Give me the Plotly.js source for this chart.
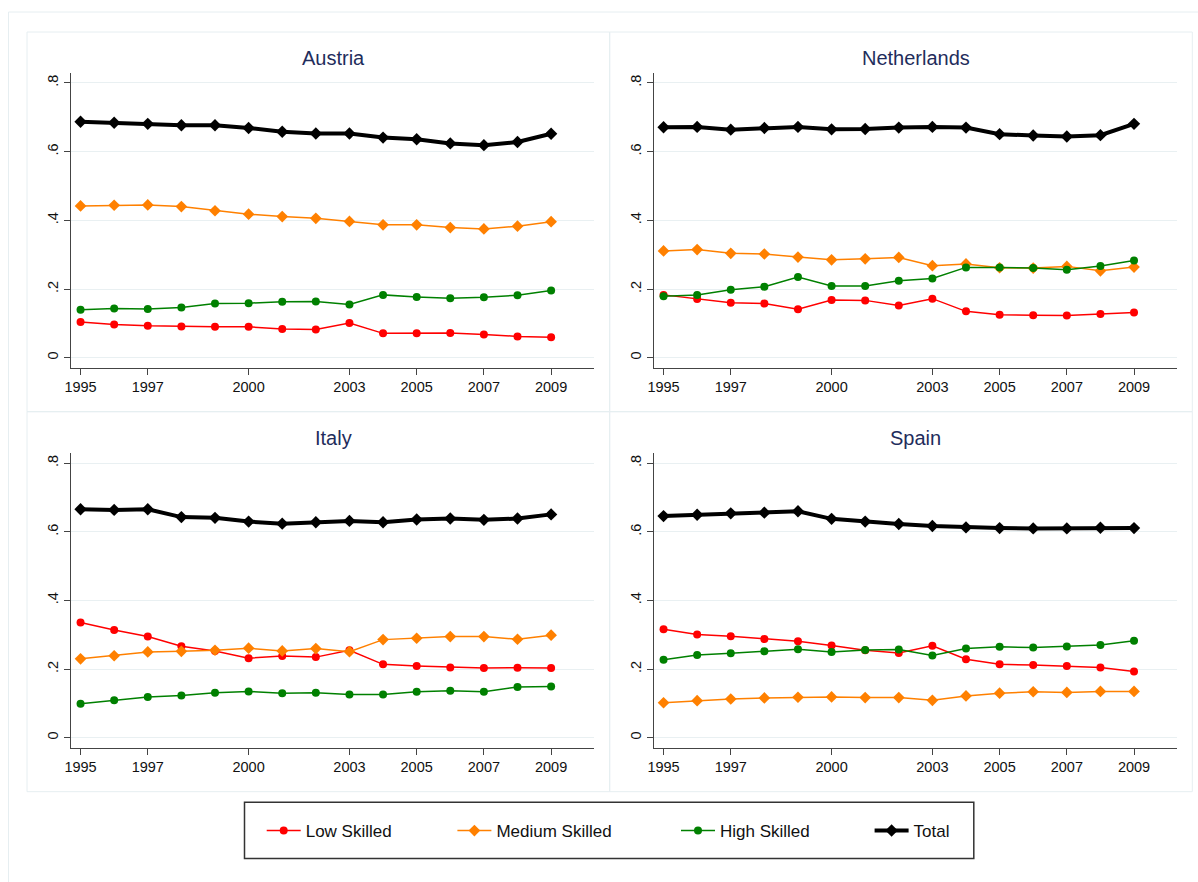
<!DOCTYPE html>
<html>
<head>
<meta charset="utf-8">
<script src="https://cdn.plot.ly/plotly-3.0.1.min.js"></script>
<style>html,body{margin:0;padding:0;background:#fff;}#chart{width:1198px;height:882px;}</style>
</head>
<body>
<div id="chart"></div>
<script>
const years = [1995,1996,1997,1998,1999,2000,2001,2002,2003,2004,2005,2006,2007,2008,2009];
const tickYears = [1995,1997,2000,2003,2005,2007,2009];
const yTicks = [0,0.2,0.4,0.6,0.8];
const yTickText = ["0",".2",".4",".6",".8"];
const countries = ["Austria","Netherlands","Italy","Spain"];
const seriesNames = ["Low Skilled","Medium Skilled","High Skilled","Total"];

const austriaLow   = [0.104,0.097,0.093,0.091,0.090,0.090,0.084,0.082,0.101,0.071,0.071,0.072,0.068,0.062,0.060];
const austriaMed   = [0.442,0.444,0.445,0.440,0.428,0.418,0.411,0.406,0.397,0.387,0.387,0.379,0.375,0.383,0.396];
const austriaHigh  = [0.140,0.143,0.142,0.146,0.158,0.159,0.163,0.164,0.155,0.183,0.177,0.173,0.176,0.182,0.196];
const austriaTotal = [0.687,0.684,0.681,0.677,0.677,0.669,0.658,0.653,0.653,0.641,0.636,0.624,0.619,0.628,0.652];

const nlLow   = [0.183,0.171,0.160,0.158,0.141,0.168,0.167,0.152,0.172,0.135,0.125,0.124,0.123,0.127,0.132];
const nlMed   = [0.311,0.315,0.304,0.302,0.293,0.285,0.288,0.292,0.268,0.273,0.262,0.261,0.266,0.253,0.264];
const nlHigh  = [0.179,0.183,0.198,0.207,0.235,0.209,0.209,0.224,0.231,0.263,0.263,0.261,0.256,0.267,0.283];
const nlTotal = [0.671,0.672,0.664,0.669,0.672,0.665,0.666,0.670,0.672,0.670,0.651,0.647,0.644,0.648,0.681];

const italyLow   = [0.336,0.314,0.295,0.267,0.253,0.232,0.238,0.235,0.255,0.214,0.209,0.205,0.203,0.204,0.203];
const italyMed   = [0.230,0.239,0.250,0.252,0.255,0.261,0.253,0.260,0.251,0.286,0.290,0.295,0.295,0.287,0.299];
const italyHigh  = [0.099,0.109,0.119,0.123,0.131,0.135,0.130,0.131,0.126,0.126,0.134,0.137,0.134,0.148,0.149];
const italyTotal = [0.666,0.664,0.666,0.643,0.641,0.630,0.624,0.628,0.632,0.628,0.636,0.639,0.635,0.639,0.651];

const spainLow   = [0.316,0.301,0.296,0.288,0.281,0.269,0.255,0.247,0.268,0.229,0.214,0.212,0.209,0.205,0.193];
const spainMed   = [0.102,0.108,0.113,0.116,0.118,0.119,0.117,0.117,0.109,0.122,0.130,0.134,0.132,0.135,0.135];
const spainHigh  = [0.227,0.241,0.246,0.252,0.258,0.250,0.256,0.257,0.240,0.260,0.265,0.263,0.266,0.270,0.283];
const spainTotal = [0.646,0.650,0.654,0.656,0.660,0.638,0.630,0.623,0.617,0.613,0.611,0.610,0.610,0.612,0.611];

const panelData = [
  [austriaLow, austriaMed, austriaHigh, austriaTotal],
  [nlLow, nlMed, nlHigh, nlTotal],
  [italyLow, italyMed, italyHigh, italyTotal],
  [spainLow, spainMed, spainHigh, spainTotal]
];

const W = 1198, H = 882;
const px = v => v / W;
const py = v => (H - v) / H;

const styles = [
  {color:'#ff0000', symbol:'circle', size:8, lw:1.5},
  {color:'#ff8000', symbol:'diamond', size:9, lw:1.5},
  {color:'#008000', symbol:'circle', size:8, lw:1.5},
  {color:'#000000', symbol:'diamond', size:9.5, lw:4}
];
const legendIds = ['legend','legend2','legend3','legend4'];

const traces = [];
panelData.forEach((panel, p) => {
  const ax = p === 0 ? '' : String(p + 1);
  panel.forEach((vals, s) => {
    const st = styles[s];
    traces.push({
      type:'scatter', mode:'lines+markers',
      x: years, y: vals,
      xaxis:'x'+ax, yaxis:'y'+ax,
      name: seriesNames[s],
      legend: legendIds[s],
      showlegend: p === 0,
      line:{color:st.color, width:st.lw},
      marker:{color:st.color, symbol:st.symbol, size:st.size, line:{width:0}},
      hoverinfo:'skip'
    });
  });
});

const fontFam = 'Arial, "Liberation Sans", sans-serif';
const colsX = [[70.8, 593.8],[653.8, 1176.7]];
const rowsY = [[73, 367.7],[453.3, 747.7]];

const layout = {
  width: W, height: H,
  margin:{l:0,r:0,t:0,b:0},
  paper_bgcolor:'#ffffff', plot_bgcolor:'#ffffff',
  font:{family:fontFam, color:'#111'},
  annotations: [],
  shapes: []
};

for (let p = 0; p < 4; p++) {
  const c = p % 2, r = Math.floor(p / 2);
  const ax = p === 0 ? '' : String(p + 1);
  layout['xaxis'+ax] = {
    domain:[px(colsX[c][0]), px(colsX[c][1])],
    anchor:'y'+ax,
    range:[1994.71, 2010.27],
    tickmode:'array', tickvals: tickYears, ticktext: tickYears.map(String),
    ticks:'outside', ticklen:6, tickwidth:1, tickcolor:'#444',
    showline:true, linecolor:'#444', linewidth:1,
    showgrid:false, zeroline:false,
    tickfont:{family:fontFam, size:14.5, color:'#111'}
  };
  layout['yaxis'+ax] = {
    domain:[py(rowsY[r][1]), py(rowsY[r][0])],
    anchor:'x'+ax,
    range:[-0.029, 0.829],
    tickmode:'array', tickvals: yTicks, ticktext: yTickText,
    tickangle:-90,
    ticks:'outside', ticklen:6, tickwidth:1, tickcolor:'#444',
    showline:true, linecolor:'#444', linewidth:1,
    showgrid:true, gridcolor:'#e9f0f2', gridwidth:1,
    zeroline:false,
    tickfont:{family:fontFam, size:14.5, color:'#111'}
  };
  layout.annotations.push({
    text: countries[p], showarrow:false,
    xref:'paper', yref:'paper',
    x: px((colsX[c][0] + colsX[c][1]) / 2 + (c === 0 ? 0.8 : 0.5)),
    y: py(r === 0 ? 58 : 438),
    xanchor:'center', yanchor:'middle',
    font:{family:fontFam, size:20, color:'#1f2d5c'}
  });
}

// panel frames and outer frame (decorative)
const frameColor = '#e6eef1';
layout.shapes.push(
  {type:'line', xref:'paper', yref:'paper', x0:px(8.5), x1:px(8.5), y0:py(12), y1:py(900), line:{color:frameColor, width:1}},
  {type:'line', xref:'paper', yref:'paper', x0:px(8.5), x1:px(1210), y0:py(12), y1:py(12), line:{color:frameColor, width:1}},
  {type:'rect', xref:'paper', yref:'paper', x0:px(27), x1:px(609.7), y0:py(411.7), y1:py(32), line:{color:frameColor, width:1}},
  {type:'rect', xref:'paper', yref:'paper', x0:px(609.7), x1:px(1192.3), y0:py(411.7), y1:py(32), line:{color:frameColor, width:1}},
  {type:'rect', xref:'paper', yref:'paper', x0:px(27), x1:px(609.7), y0:py(791.7), y1:py(411.7), line:{color:frameColor, width:1}},
  {type:'rect', xref:'paper', yref:'paper', x0:px(609.7), x1:px(1192.3), y0:py(791.7), y1:py(411.7), line:{color:frameColor, width:1}},
  {type:'rect', xref:'paper', yref:'paper', x0:px(244.5), x1:px(973.8), y0:py(858.5), y1:py(802.2), line:{color:'#333', width:1.5}}
);

// text start positions in reference
const legendTextStarts = [311.7, 502.4, 726, 919.6];
const itemW = 34;
legendIds.forEach((id, i) => {
  layout[id] = {
    x: px(legendTextStarts[i] - (itemW + 16)), y: py(831),
    xanchor:'left', yanchor:'middle',
    orientation:'h',
    itemwidth: itemW,
    bgcolor:'rgba(0,0,0,0)', borderwidth:0,
    font:{family:fontFam, size:17, color:'#111'}
  };
});

Plotly.newPlot('chart', traces, layout, {displayModeBar:false, staticPlot:true});
</script>
</body>
</html>
